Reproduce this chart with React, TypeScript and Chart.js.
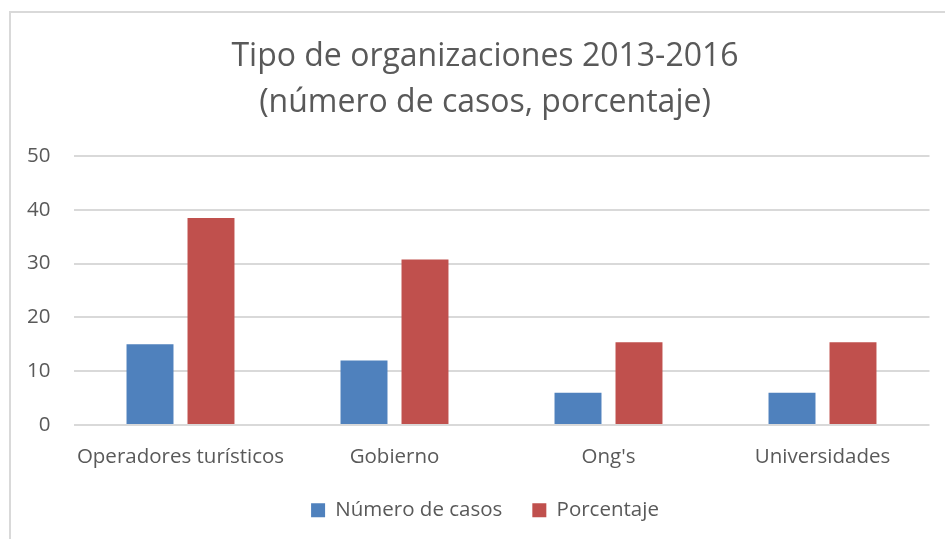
import React, { useEffect, useRef } from "react";
import { Chart, registerables } from "chart.js";

Chart.register(...registerables);

const categories = ["Operadores turísticos", "Gobierno", "Ong's", "Universidades"];
const casos = [15, 12, 6, 6];
const porcentaje = [38.46, 30.77, 15.38, 15.38];
const yTicks = [0, 10, 20, 30, 40, 50];
const titleLines = ["Tipo de organizaciones 2013-2016", "(número de casos, porcentaje)"];

const FONT = "'Open Sans', 'Liberation Sans', sans-serif";
const TEXT = "#595959";
const GRID = "#d9d9d9";

export default function App() {
  const ref = useRef<HTMLCanvasElement | null>(null);
  useEffect(() => {
    if (!ref.current) return;
    const chart = new Chart(ref.current, {
      type: "bar",
      data: {
        labels: categories,
        datasets: [
          { label: "Número de casos", data: casos, backgroundColor: "#4F81BD", borderWidth: 0 },
          { label: "Porcentaje", data: porcentaje, backgroundColor: "#C0504D", borderWidth: 0 },
        ],
      },
      options: {
        responsive: false,
        animation: false,
        events: [],
        layout: { padding: { left: 25, right: 0, top: 33.5, bottom: 8.5 } },
        datasets: { bar: { categoryPercentage: 0.57, barPercentage: 0.77 } },
        plugins: {
          title: {
            display: true,
            text: titleLines,
            color: TEXT,
            font: { family: FONT, size: 32, weight: "normal", lineHeight: 1.4375 },
            padding: { top: 0, bottom: 30.5 },
          },
          legend: {
            position: "bottom",
            labels: {
              color: TEXT,
              font: { family: FONT, size: 20.5 },
              boxWidth: 14,
              boxHeight: 14,
              padding: 30,
            },
          },
          tooltip: { enabled: false },
        },
        scales: {
          x: {
            afterFit: (s: any) => {
              s.height = 45;
            },
            grid: { display: false, drawTicks: false },
            border: { display: false },
            ticks: { color: TEXT, font: { family: FONT, size: 20.5 }, padding: 19.7, maxRotation: 0, autoSkip: false },
          },
          y: {
            min: 0,
            max: 50,
            afterBuildTicks: (s: any) => {
              s.ticks = yTicks.map((v) => ({ value: v }));
            },
            afterFit: (s: any) => {
              s.width = 48.5;
            },
            grid: { color: GRID, lineWidth: 2, drawTicks: false },
            border: { display: false },
            ticks: { color: TEXT, font: { family: FONT, size: 20.5 }, padding: 23 },
          },
          yRight: {
            position: "right",
            min: 0,
            max: 50,
            afterFit: (s: any) => {
              s.width = 15.5;
            },
            grid: { display: false, drawTicks: false },
            border: { display: false },
            ticks: { display: false },
          },
        },
      },
    });
    return () => chart.destroy();
  }, []);
  return (
    <div style={{ position: "fixed", left: 0, top: 0, width: 945, height: 539, overflow: "hidden", background: "#fff" }}>
      <div
        style={{
          position: "absolute",
          left: 9,
          top: 11,
          width: 1000,
          height: 700,
          border: `2px solid ${GRID}`,
          boxSizing: "border-box",
        }}
      />
      <canvas ref={ref} width={945} height={539} style={{ position: "absolute", left: 0, top: 0 }} />
    </div>
  );
}
